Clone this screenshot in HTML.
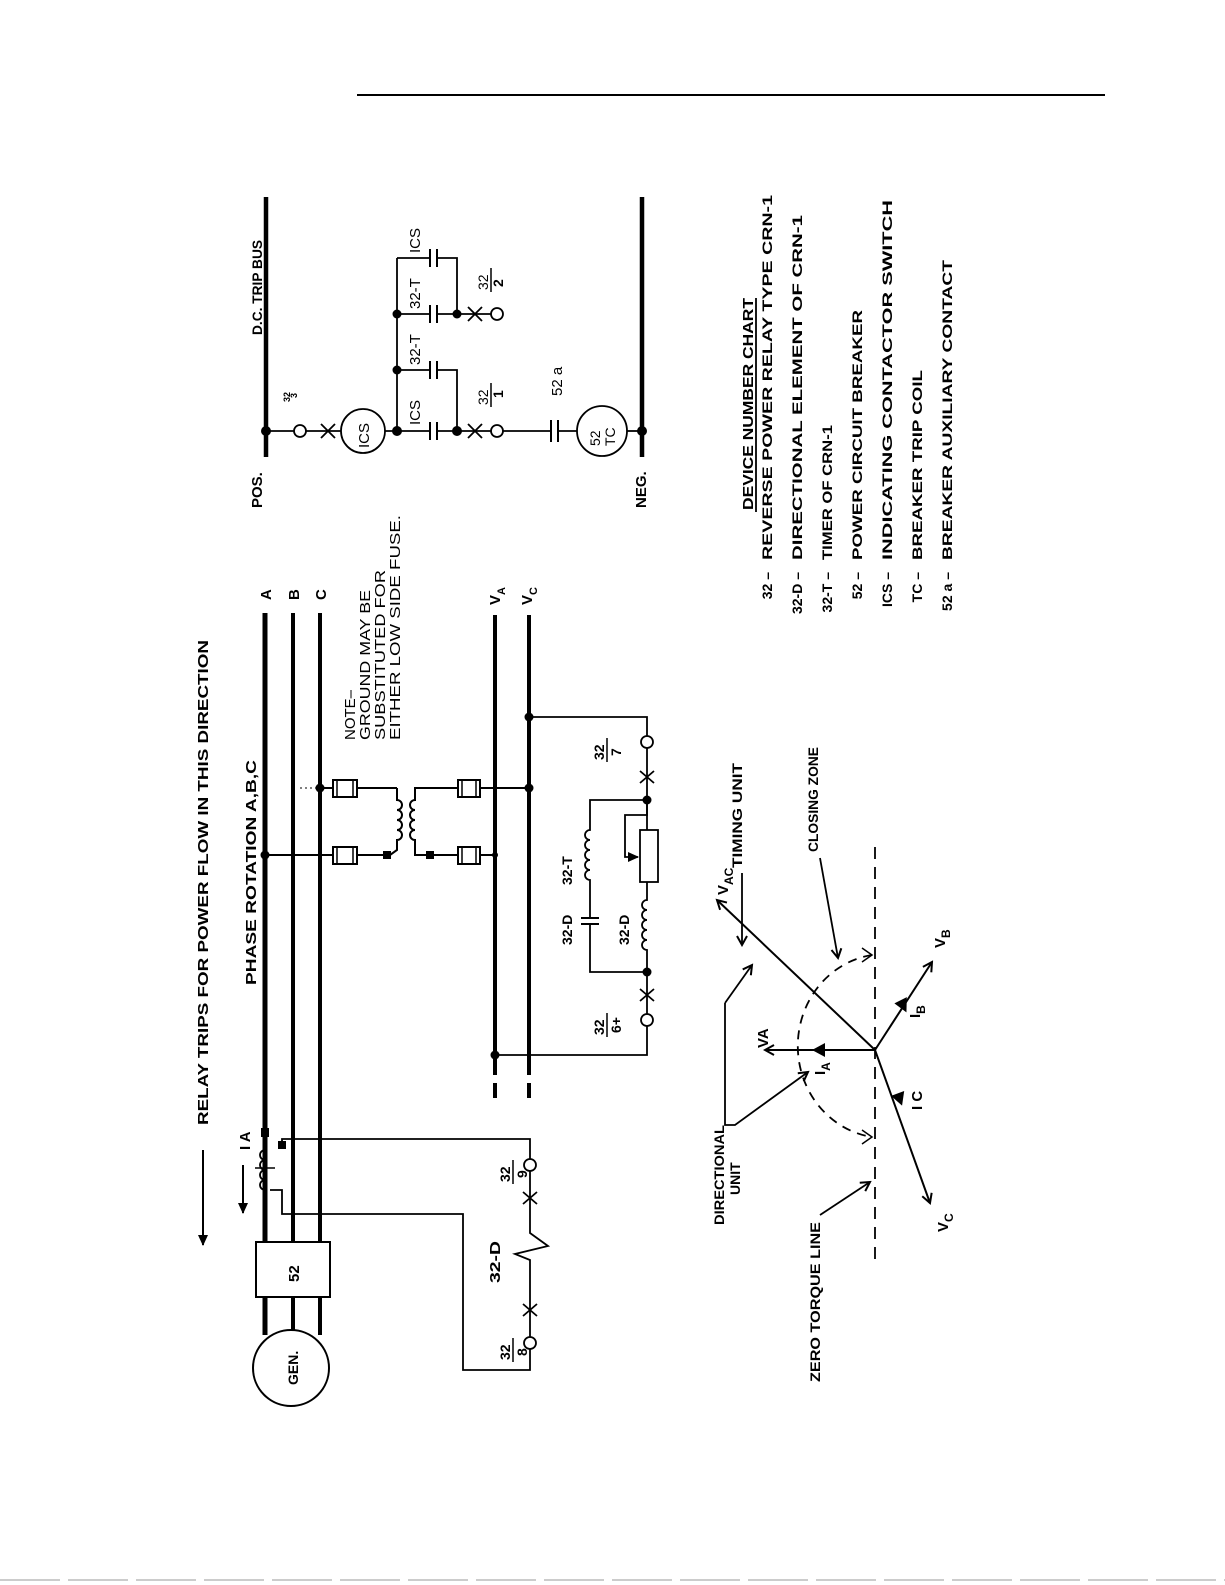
<!DOCTYPE html>
<html><head><meta charset="utf-8"><style>
html,body{margin:0;padding:0;background:#fff;}
svg{display:block;}
text{font-family:"Liberation Sans",sans-serif;fill:#000;font-weight:bold;}
</style></head><body>
<svg width="1225" height="1585" viewBox="0 0 1225 1585" xmlns="http://www.w3.org/2000/svg">
<defs>
<marker id="oa" markerWidth="12" markerHeight="12" refX="10" refY="6" orient="auto" markerUnits="userSpaceOnUse"><path d="M1 1 L10 6 L1 11" fill="none" stroke="#000" stroke-width="2"/></marker>
<marker id="fa" markerWidth="12" markerHeight="12" refX="10" refY="6" orient="auto" markerUnits="userSpaceOnUse"><path d="M0 1 L11 6 L0 11 Z" fill="#000"/></marker>
</defs>
<line x1="357" y1="95" x2="1105" y2="95" stroke="#000" stroke-width="2"/>
<line x1="0" y1="1580" x2="1225" y2="1580" stroke="#999" stroke-width="1" stroke-dasharray="60 8"/>

<g stroke="#000" fill="none">
<line x1="203" y1="1150" x2="203" y2="1245" stroke-width="2" marker-end="url(#fa)"/>
<line x1="265" y1="613" x2="265" y2="1242" stroke-width="5"/>
<line x1="293" y1="613" x2="293" y2="1242" stroke-width="4"/>
<line x1="320" y1="613" x2="320" y2="1242" stroke-width="4"/>
<line x1="265" y1="1297" x2="265" y2="1335" stroke-width="5"/>
<line x1="293" y1="1297" x2="293" y2="1330" stroke-width="4"/>
<line x1="320" y1="1297" x2="320" y2="1335" stroke-width="4"/>
<rect x="256" y="1242" width="74" height="55" stroke-width="2" fill="#fff"/>
<circle cx="291" cy="1368" r="38" stroke-width="2" fill="#fff"/>
<line x1="495" y1="615" x2="495" y2="1075" stroke-width="4"/>
<line x1="495" y1="1083" x2="495" y2="1098" stroke-width="4"/>
<line x1="529" y1="615" x2="529" y2="1075" stroke-width="4"/>
<line x1="529" y1="1083" x2="529" y2="1098" stroke-width="4"/>
<line x1="320" y1="788" x2="333" y2="788" stroke-width="2"/>
<line x1="357" y1="788" x2="397" y2="788" stroke-width="2"/>
<line x1="265" y1="855" x2="333" y2="855" stroke-width="2"/>
<line x1="357" y1="855" x2="386" y2="855" stroke-width="2"/>
<line x1="300" y1="788" x2="320" y2="788" stroke-width="1" stroke-dasharray="2 3"/>
<rect x="333" y="780" width="24" height="17" stroke-width="2"/>
<line x1="337" y1="780" x2="337" y2="797" stroke-width="1.5"/><line x1="353" y1="780" x2="353" y2="797" stroke-width="1.5"/>
<rect x="333" y="847" width="24" height="17" stroke-width="2"/>
<line x1="337" y1="847" x2="337" y2="864" stroke-width="1.5"/><line x1="353" y1="847" x2="353" y2="864" stroke-width="1.5"/>
<path d="M397 788 L397 800 a5 5 0 0 1 0 10 a5 5 0 0 1 0 10 a5 5 0 0 1 0 10 a5 5 0 0 1 0 10 L397 850 L390 855" stroke-width="2"/>
<path d="M425 788 L415 788 L415 800 a5 5 0 0 0 0 10 a5 5 0 0 0 0 10 a5 5 0 0 0 0 10 a5 5 0 0 0 0 10 L415 855 L458 855" stroke-width="2"/>
<line x1="415" y1="788" x2="458" y2="788" stroke-width="2"/>
<rect x="458" y="780" width="22" height="17" stroke-width="2"/>
<line x1="462" y1="780" x2="462" y2="797" stroke-width="1.5"/><line x1="476" y1="780" x2="476" y2="797" stroke-width="1.5"/>
<rect x="458" y="847" width="22" height="17" stroke-width="2"/>
<line x1="462" y1="847" x2="462" y2="864" stroke-width="1.5"/><line x1="476" y1="847" x2="476" y2="864" stroke-width="1.5"/>
<line x1="480" y1="788" x2="529" y2="788" stroke-width="2"/>
<line x1="480" y1="855" x2="495" y2="855" stroke-width="2"/>
<path d="M529 717 L647 717 L647 736" stroke-width="1.8"/>
<circle cx="647" cy="742" r="6" stroke-width="1.8" fill="#fff"/>
<line x1="647" y1="748" x2="647" y2="830" stroke-width="1.8"/>
<path d="M640 771 L654 783 M654 771 L640 783" stroke-width="1.8"/>
<path d="M647 800 L590 800 L590 830 a5 5 0 0 0 0 10 a5 5 0 0 0 0 10 a5 5 0 0 0 0 10 a5 5 0 0 0 0 10 a5 5 0 0 0 0 10 L590 918" stroke-width="1.8"/>
<line x1="581" y1="918" x2="599" y2="918" stroke-width="2"/>
<line x1="581" y1="924" x2="599" y2="924" stroke-width="2"/>
<path d="M590 924 L590 972 L647 972" stroke-width="1.8"/>
<path d="M647 800 L647 815 L625 815 L625 857 L638 857" stroke-width="1.8" marker-end="url(#fa)"/>
<rect x="640" y="830" width="18" height="52" stroke-width="1.8" fill="#fff"/>
<path d="M647 882 L647 900 a5 5 0 0 0 0 10 a5 5 0 0 0 0 10 a5 5 0 0 0 0 10 a5 5 0 0 0 0 10 a5 5 0 0 0 0 10 L647 1014" stroke-width="1.8"/>
<path d="M640 989 L654 1001 M654 989 L640 1001" stroke-width="1.8"/>
<circle cx="647" cy="1020" r="6" stroke-width="1.8" fill="#fff"/>
<path d="M647 1026 L647 1055 L495 1055" stroke-width="1.8"/>
<path d="M265 1150 a5 5 0 0 0 0 10 a5 5 0 0 0 0 10 a5 5 0 0 0 0 10 a5 5 0 0 0 0 10" stroke-width="1.8"/>
<line x1="255" y1="1168" x2="275" y2="1168" stroke-width="1.5"/>
<path d="M282 1145 L282 1139 L530 1139 L530 1159" stroke-width="1.8"/>
<circle cx="530" cy="1165" r="6" stroke-width="1.8" fill="#fff"/>
<path d="M530 1171 L530 1233 L548 1246 L515 1254 L530 1260 L530 1337" stroke-width="1.8"/>
<path d="M523 1192 L537 1204 M537 1192 L523 1204" stroke-width="1.8"/>
<path d="M523 1304 L537 1316 M537 1304 L523 1316" stroke-width="1.8"/>
<circle cx="530" cy="1343" r="6" stroke-width="1.8" fill="#fff"/>
<path d="M530 1349 L530 1370 L463 1370 L463 1214 L282 1214 L282 1190 L270 1190" stroke-width="1.8"/>
<line x1="243" y1="1165" x2="243" y2="1213" stroke-width="2" marker-end="url(#fa)"/>
<line x1="266" y1="197" x2="266" y2="457" stroke-width="4.5"/>
<line x1="642" y1="197" x2="642" y2="457" stroke-width="4.5"/>
<line x1="266" y1="431" x2="294" y2="431" stroke-width="1.8"/>
<circle cx="300" cy="431" r="6" stroke-width="1.8" fill="#fff"/>
<line x1="306" y1="431" x2="341" y2="431" stroke-width="1.8"/>
<path d="M321 424 L335 438 M335 424 L321 438" stroke-width="1.8"/>
<circle cx="363" cy="431" r="22" stroke-width="1.8" fill="#fff"/>
<line x1="385" y1="431" x2="430" y2="431" stroke-width="1.8"/>
<line x1="430" y1="422" x2="430" y2="440" stroke-width="2"/><line x1="437" y1="422" x2="437" y2="440" stroke-width="2"/>
<line x1="437" y1="431" x2="491" y2="431" stroke-width="1.8"/>
<path d="M468 424 L482 438 M482 424 L468 438" stroke-width="1.8"/>
<circle cx="497" cy="431" r="6" stroke-width="1.8" fill="#fff"/>
<line x1="503" y1="431" x2="551" y2="431" stroke-width="1.8"/>
<line x1="551" y1="420" x2="551" y2="442" stroke-width="2"/><line x1="558" y1="420" x2="558" y2="442" stroke-width="2"/>
<line x1="558" y1="431" x2="577" y2="431" stroke-width="1.8"/>
<circle cx="602" cy="431" r="25" stroke-width="1.8" fill="#fff"/>
<line x1="627" y1="431" x2="642" y2="431" stroke-width="1.8"/>
<line x1="397" y1="431" x2="397" y2="258" stroke-width="1.8"/>
<line x1="397" y1="370" x2="430" y2="370" stroke-width="1.8"/>
<line x1="430" y1="361" x2="430" y2="379" stroke-width="2"/><line x1="437" y1="361" x2="437" y2="379" stroke-width="2"/>
<path d="M437 370 L457 370 L457 431" stroke-width="1.8"/>
<line x1="397" y1="314" x2="430" y2="314" stroke-width="1.8"/>
<line x1="430" y1="305" x2="430" y2="323" stroke-width="2"/><line x1="437" y1="305" x2="437" y2="323" stroke-width="2"/>
<line x1="437" y1="314" x2="491" y2="314" stroke-width="1.8"/>
<path d="M468 307 L482 321 M482 307 L468 321" stroke-width="1.8"/>
<circle cx="497" cy="314" r="6" stroke-width="1.8" fill="#fff"/>
<line x1="397" y1="258" x2="430" y2="258" stroke-width="1.8"/>
<line x1="430" y1="249" x2="430" y2="267" stroke-width="2"/><line x1="437" y1="249" x2="437" y2="267" stroke-width="2"/>
<path d="M437 258 L457 258 L457 314" stroke-width="1.8"/>
<line x1="756" y1="298" x2="756" y2="512" stroke-width="1.8"/>
<line x1="875" y1="847" x2="875" y2="1262" stroke-width="1.8" stroke-dasharray="12 8"/>
<line x1="875" y1="1050" x2="717" y2="900" stroke-width="2" marker-end="url(#oa)"/>
<line x1="875" y1="1050" x2="765" y2="1050" stroke-width="2" marker-end="url(#oa)"/>
<line x1="875" y1="1050" x2="932" y2="962" stroke-width="2" marker-end="url(#oa)"/>
<line x1="875" y1="1050" x2="930" y2="1203" stroke-width="2" marker-end="url(#oa)"/>
<path d="M825 1043 L825 1057 L812 1050 Z" fill="#000" stroke="none"/>
<path d="M898 996 L910 1003 L897 1011 Z" fill="#000" stroke="none" transform="rotate(-57 903 1003)"/>
<path d="M893 1093 L906 1100 L893 1107 Z" fill="#000" stroke="none" transform="rotate(70 900 1100)"/>
<path d="M872 955 A87 92 0 0 0 872 1137" stroke-width="1.8" stroke-dasharray="9 7"/>
<path d="M862 948 L872 955 L862 962" stroke-width="1.5"/>
<path d="M862 1130 L872 1137 L862 1144" stroke-width="1.5"/>
<path d="M725 1003 L725 1125 L735 1125 L808 1072" stroke-width="1.8" marker-end="url(#oa)"/>
<path d="M725 1003 L752 965" stroke-width="1.8" marker-end="url(#oa)"/>
<path d="M742 873 L742 945" stroke-width="1.8" marker-end="url(#oa)"/>
<path d="M820 858 L838 958" stroke-width="1.8" marker-end="url(#oa)"/>
<path d="M820 1215 L870 1182" stroke-width="1.8" marker-end="url(#oa)"/>
</g>
<g fill="#000">
<circle cx="265" cy="855" r="4.5"/><circle cx="320" cy="788" r="4.5"/><circle cx="529" cy="788" r="4.5"/><circle cx="495" cy="855" r="3"/>
<rect x="383" y="851" width="8" height="8"/><rect x="426" y="851" width="8" height="8"/>
<circle cx="529" cy="717" r="4.5"/><circle cx="647" cy="800" r="4.5"/><circle cx="647" cy="972" r="4.5"/><circle cx="495" cy="1055" r="4.5"/>
<rect x="261" y="1128" width="8" height="9"/><rect x="278" y="1141" width="8" height="8"/>
<circle cx="266" cy="431" r="5"/><circle cx="397" cy="431" r="5"/><circle cx="457" cy="431" r="5"/><circle cx="642" cy="431" r="5"/>
<circle cx="397" cy="370" r="4.5"/><circle cx="397" cy="314" r="4.5"/><circle cx="457" cy="314" r="4.5"/>
</g>

<g font-size="15">
<text transform="translate(208,1125) rotate(-90)" textLength="485" lengthAdjust="spacingAndGlyphs">RELAY TRIPS FOR POWER FLOW IN THIS DIRECTION</text>
<text transform="translate(256,985) rotate(-90)" textLength="225" lengthAdjust="spacingAndGlyphs">PHASE ROTATION A,B,C</text>
<text transform="translate(271,600) rotate(-90)">A</text>
<text transform="translate(299,600) rotate(-90)">B</text>
<text transform="translate(326,600) rotate(-90)">C</text>
<text transform="translate(500,605) rotate(-90)">V<tspan font-size="11" dy="5">A</tspan></text>
<text transform="translate(532,605) rotate(-90)">V<tspan font-size="11" dy="5">C</tspan></text>
<text transform="translate(355,740) rotate(-90)" style="font-weight:normal">NOTE–</text>
<text transform="translate(370,740) rotate(-90)" textLength="150" lengthAdjust="spacingAndGlyphs" style="font-weight:normal">GROUND MAY BE</text>
<text transform="translate(385,740) rotate(-90)" textLength="170" lengthAdjust="spacingAndGlyphs" style="font-weight:normal">SUBSTITUTED FOR</text>
<text transform="translate(400,740) rotate(-90)" textLength="225" lengthAdjust="spacingAndGlyphs" style="font-weight:normal">EITHER LOW SIDE FUSE.</text>
<text transform="translate(298,1385) rotate(-90)" font-size="14">GEN.</text>
<text transform="translate(299,1282) rotate(-90)">52</text>
<text transform="translate(250,1150) rotate(-90)">I A</text>
<text transform="translate(500,1283) rotate(-90)" textLength="42" lengthAdjust="spacingAndGlyphs">32-D</text>
<text transform="translate(510,1360) rotate(-90)" font-size="14">32</text><line x1="513" y1="1338" x2="513" y2="1362" stroke="#000" stroke-width="1.5"/><text transform="translate(527,1356) rotate(-90)" font-size="14">8</text>
<text transform="translate(510,1182) rotate(-90)" font-size="14">32</text><line x1="513" y1="1160" x2="513" y2="1184" stroke="#000" stroke-width="1.5"/><text transform="translate(527,1178) rotate(-90)" font-size="14">9</text>
<text transform="translate(604,760) rotate(-90)" font-size="14">32</text><line x1="607" y1="738" x2="607" y2="762" stroke="#000" stroke-width="1.5"/><text transform="translate(621,756) rotate(-90)" font-size="14">7</text>
<text transform="translate(604,1035) rotate(-90)" font-size="14">32</text><line x1="607" y1="1013" x2="607" y2="1037" stroke="#000" stroke-width="1.5"/><text transform="translate(621,1033) rotate(-90)" font-size="14">6+</text>
<text transform="translate(572,945) rotate(-90)" font-size="14">32-D</text>
<text transform="translate(572,885) rotate(-90)" font-size="14">32-T</text>
<text transform="translate(629,945) rotate(-90)" font-size="14">32-D</text>
<text transform="translate(262,335) rotate(-90)" font-size="14" textLength="95" lengthAdjust="spacingAndGlyphs">D.C. TRIP BUS</text>
<text transform="translate(262,508) rotate(-90)">POS.</text>
<text transform="translate(646,508) rotate(-90)">NEG.</text>
<text transform="translate(290,402) rotate(-90)" font-size="9">32</text><text transform="translate(297,398) rotate(-90)" font-size="9">3</text>
<text transform="translate(369,448) rotate(-90)" style="font-weight:normal">ICS</text>
<text transform="translate(420,425) rotate(-90)" style="font-weight:normal">ICS</text>
<text transform="translate(420,365) rotate(-90)" style="font-weight:normal">32-T</text>
<text transform="translate(420,309) rotate(-90)" style="font-weight:normal">32-T</text>
<text transform="translate(420,253) rotate(-90)" style="font-weight:normal">ICS</text>
<text transform="translate(488,405) rotate(-90)" font-size="14" style="font-weight:normal">32</text><line x1="491" y1="383" x2="491" y2="407" stroke="#000" stroke-width="1.5"/><text transform="translate(503,398) rotate(-90)" font-size="14">1</text>
<text transform="translate(488,290) rotate(-90)" font-size="14" style="font-weight:normal">32</text><line x1="491" y1="268" x2="491" y2="292" stroke="#000" stroke-width="1.5"/><text transform="translate(503,287) rotate(-90)" font-size="14">2</text>
<text transform="translate(562,396) rotate(-90)" style="font-weight:normal">52 a</text>
<text transform="translate(600,446) rotate(-90)" font-size="14" style="font-weight:normal">52</text>
<text transform="translate(615,446) rotate(-90)" font-size="14" style="font-weight:normal">TC</text>
<text transform="translate(753,510) rotate(-90)" textLength="212" lengthAdjust="spacingAndGlyphs">DEVICE NUMBER CHART</text>
<g font-size="14">
<text transform="translate(772,572) rotate(-90)" text-anchor="end">32  –</text><text transform="translate(772,560) rotate(-90)" textLength="365" lengthAdjust="spacingAndGlyphs">REVERSE POWER RELAY TYPE CRN-1</text>
<text transform="translate(802,572) rotate(-90)" text-anchor="end">32-D –</text><text transform="translate(802,560) rotate(-90)" textLength="345" lengthAdjust="spacingAndGlyphs">DIRECTIONAL ELEMENT OF CRN-1</text>
<text transform="translate(832,572) rotate(-90)" text-anchor="end">32-T –</text><text transform="translate(832,560) rotate(-90)" textLength="135" lengthAdjust="spacingAndGlyphs">TIMER OF CRN-1</text>
<text transform="translate(862,572) rotate(-90)" text-anchor="end">52  –</text><text transform="translate(862,560) rotate(-90)" textLength="250" lengthAdjust="spacingAndGlyphs">POWER CIRCUIT BREAKER</text>
<text transform="translate(892,572) rotate(-90)" text-anchor="end">ICS –</text><text transform="translate(892,560) rotate(-90)" textLength="360" lengthAdjust="spacingAndGlyphs">INDICATING CONTACTOR SWITCH</text>
<text transform="translate(922,572) rotate(-90)" text-anchor="end">TC  –</text><text transform="translate(922,560) rotate(-90)" textLength="190" lengthAdjust="spacingAndGlyphs">BREAKER TRIP COIL</text>
<text transform="translate(952,572) rotate(-90)" text-anchor="end">52 a –</text><text transform="translate(952,560) rotate(-90)" textLength="300" lengthAdjust="spacingAndGlyphs">BREAKER AUXILIARY CONTACT</text>
</g>
<text transform="translate(742,868) rotate(-90)" font-size="14" textLength="105" lengthAdjust="spacingAndGlyphs">TIMING UNIT</text>
<text transform="translate(818,852) rotate(-90)" font-size="14" textLength="105" lengthAdjust="spacingAndGlyphs">CLOSING ZONE</text>
<text transform="translate(724,1225) rotate(-90)" font-size="14" textLength="100" lengthAdjust="spacingAndGlyphs">DIRECTIONAL</text>
<text transform="translate(740,1195) rotate(-90)" font-size="14">UNIT</text>
<text transform="translate(820,1382) rotate(-90)" font-size="14" textLength="160" lengthAdjust="spacingAndGlyphs">ZERO TORQUE LINE</text>
<text transform="translate(728,895) rotate(-90)">V<tspan font-size="12" dy="5">AC</tspan></text>
<text transform="translate(768,1048) rotate(-90)">VA</text>
<text transform="translate(825,1075) rotate(-90)">I<tspan font-size="12" dy="5">A</tspan></text>
<text transform="translate(920,1018) rotate(-90)">I<tspan font-size="12" dy="5">B</tspan></text>
<text transform="translate(922,1110) rotate(-90)">I C</text>
<text transform="translate(945,948) rotate(-90)">V<tspan font-size="12" dy="5">B</tspan></text>
<text transform="translate(948,1232) rotate(-90)">V<tspan font-size="12" dy="5">C</tspan></text>
</g>
</svg>
</body></html>
